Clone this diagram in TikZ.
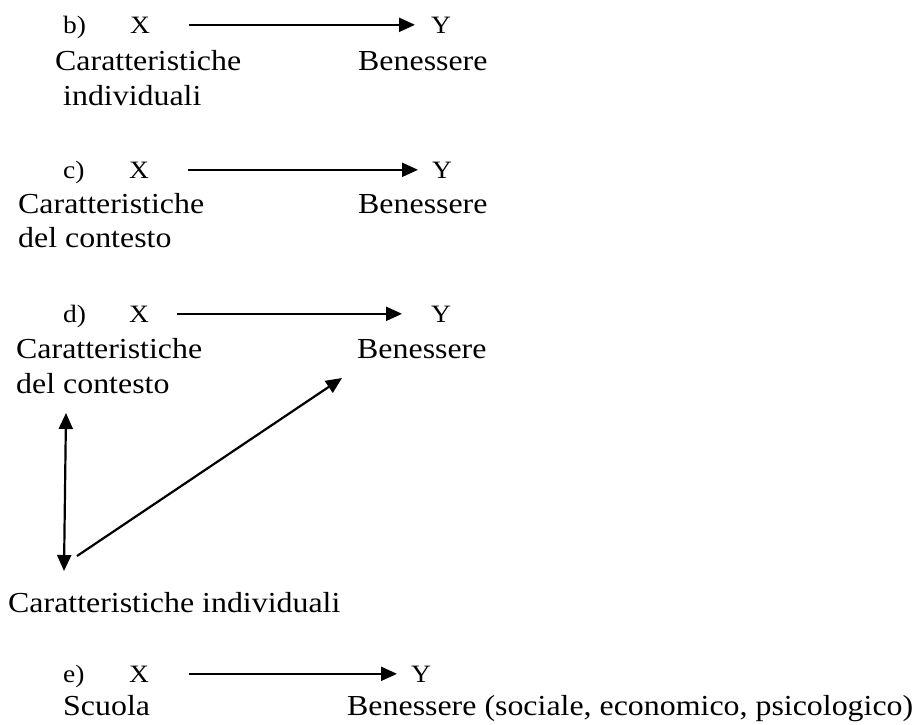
\documentclass[tikz,border=0pt]{standalone}
\usepackage{fontspec}
\setmainfont{Liberation Serif}
\usetikzlibrary{arrows.meta}
\newcommand\widetext[1]{\scalebox{1.1}[1]{#1}}
\begin{document}
\begin{tikzpicture}[x=1pt,y=-1pt,
  txt/.style={anchor=base west, inner sep=0pt, font=\fontsize{29}{34}\selectfont},
  lbl/.style={anchor=base west, inner sep=0pt, font=\fontsize{25}{30}\selectfont},
  arr/.style={line width=2.2pt, -{Triangle[length=16pt,width=14pt]}},
  darr/.style={line width=2.2pt, {Triangle[length=16pt,width=14pt]}-{Triangle[length=16pt,width=14pt]}}]
\useasboundingbox (0,0) rectangle (915,724);

% b) individual characteristics -> well-being
\node[lbl] (bl) at (63,33) {\widetext{b)}};
\node[lbl] (bX) at (130,33) {\widetext{X}};
\node[lbl] (bY) at (431,33) {\widetext{Y}};
\node[txt] (bc1) at (55,70) {\widetext{Caratteristiche}};
\node[txt] (bc2) at (63,105) {\widetext{individuali}};
\node[txt] (bB) at (358,70) {\widetext{Benessere}};
\draw[arr, shorten <=39pt, shorten >=16pt] (bX.east) -- (bY.west);

% c) context characteristics -> well-being
\node[lbl] (cl) at (63,178) {\widetext{c)}};
\node[lbl] (cX) at (129,178) {\widetext{X}};
\node[lbl] (cY) at (432,178) {\widetext{Y}};
\node[txt] (cc1) at (18,213) {\widetext{Caratteristiche}};
\node[txt] (cc2) at (18,247) {\widetext{del contesto}};
\node[txt] (cB) at (358,213) {\widetext{Benessere}};
\draw[arr, shorten <=39pt, shorten >=14pt] (cX.east) -- (cY.west);

% d) context and individual characteristics
\node[lbl] (dl) at (63,322) {\widetext{d)}};
\node[lbl] (dX) at (129,322) {\widetext{X}};
\node[lbl] (dY) at (431,322) {\widetext{Y}};
\node[txt] (dc1) at (16,358) {\widetext{Caratteristiche}};
\node[txt] (dc2) at (16,393) {\widetext{del contesto}};
\node[txt] (dB) at (357,358) {\widetext{Benessere}};
\node[txt] (di) at (8,612) {\widetext{Caratteristiche individuali}};
\draw[arr, shorten <=28pt, shorten >=29pt] (dX.east) -- (dY.west);
\coordinate (dvTop) at (66,413);
\coordinate (dvBot) at (64,571);
\coordinate (dgFrom) at (77,556);
\coordinate (dgTo) at (342,378);
\draw[darr] (dvBot) -- (dvTop);
\draw[arr] (dgFrom) -- (dgTo);

% e) school -> well-being
\node[lbl] (el) at (63,682) {\widetext{e)}};
\node[lbl] (eX) at (129,682) {\widetext{X}};
\node[lbl] (eY) at (411,682) {\widetext{Y}};
\node[txt] (es) at (63,715) {\widetext{Scuola}};
\node[txt] (eB) at (347,715) {\widetext{Benessere (sociale, economico, psicologico)}};
\draw[arr, shorten <=40pt, shorten >=14pt] (eX.east) -- (eY.west);
\end{tikzpicture}
\end{document}
